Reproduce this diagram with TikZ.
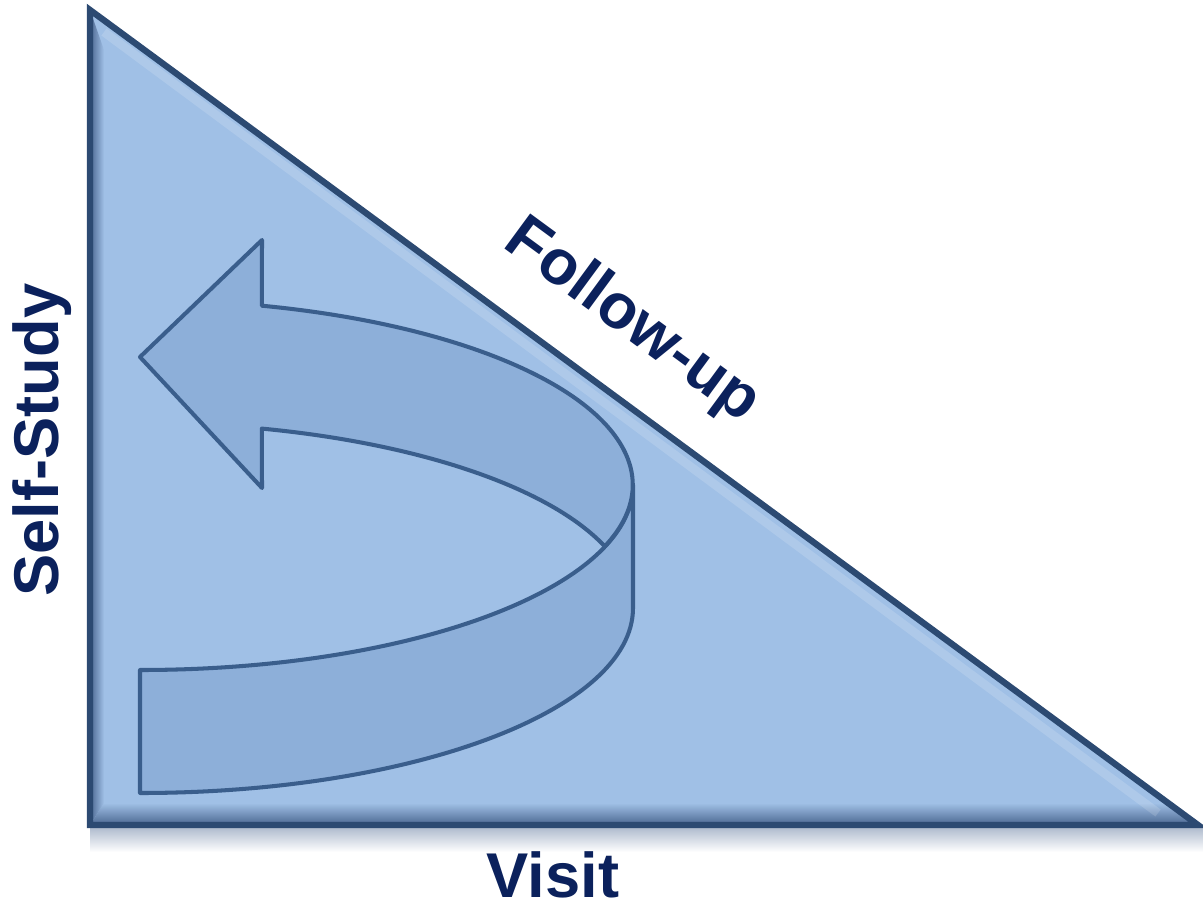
\documentclass[tikz,border=0pt]{standalone}
\usepackage{fontspec}
\setmainfont{Liberation Sans}
\usetikzlibrary{calc}
\definecolor{triblue}{HTML}{A0C0E6}
\definecolor{arrblue}{HTML}{8DAFD9}
\definecolor{edgeblue}{HTML}{3A5E8C}
\definecolor{rimblue}{HTML}{2C4A72}
\definecolor{bevelblue}{HTML}{4A6690}
\definecolor{navy}{HTML}{0B215C}

\begin{document}
\begin{tikzpicture}[x=0.1mm,y=0.1mm,
   lbl/.style={font=\fontsize{18}{18}\selectfont\bfseries,text=navy,inner sep=0pt},
   band/.style={fill=arrblue,draw=edgeblue,line width=1.15pt,line join=round},
   ell/.style={x radius=49.3mm,y radius=18.5mm}]
\useasboundingbox (0,0) rectangle (1203,902);
% triangle corners
\coordinate (apex) at (90,892);
\coordinate (corner) at (90,77);
\coordinate (tail) at (1198,77);
% soft shadow under the base
\shade[top color=bevelblue!45,bottom color=white] (90,75) rectangle (1203,50);
\fill[triblue] (apex) -- (corner) -- (tail) -- cycle;
% bevel
\shade[top color=triblue,bottom color=bevelblue] ($(corner)+(14,22)$) -- ($(tail)+(-34,22)$) -- (tail) -- (corner) -- cycle;
\shade[left color=bevelblue,right color=triblue] (corner) -- ($(corner)+(14,22)$) -- ($(apex)+(14,-40)$) -- (apex) -- cycle;
\draw[white,opacity=0.15,line width=2.5pt] ($(apex)+(14,-22)$) -- ($(tail)+(-40,12)$);
\draw[rimblue,line width=1.8pt,line join=miter] (apex) -- (corner) -- (tail) -- cycle;
% front face of the band
\draw[band] (140,109) -- (140,232) arc[start angle=-90,end angle=0,ell]
   -- (633,294) arc[start angle=0,end angle=-90,ell] -- cycle;
% top face with the head
\draw[band] (140,545) coordinate (tip) -- (262,662) -- (261.8,596.3)
   arc[start angle=75.67,end angle=-19.4,ell]
   arc[start angle=19.4,end angle=75.67,ell] -- (262,414) -- cycle;
% labels
\node[lbl,rotate=90] (selfstudy) at (42,462) {Self-Study};
\node[lbl] (visit) at (553,27) {Visit};
\node[lbl,rotate=-36.3] (followup) at (632,580) {Follow-up};
\end{tikzpicture}
\end{document}
